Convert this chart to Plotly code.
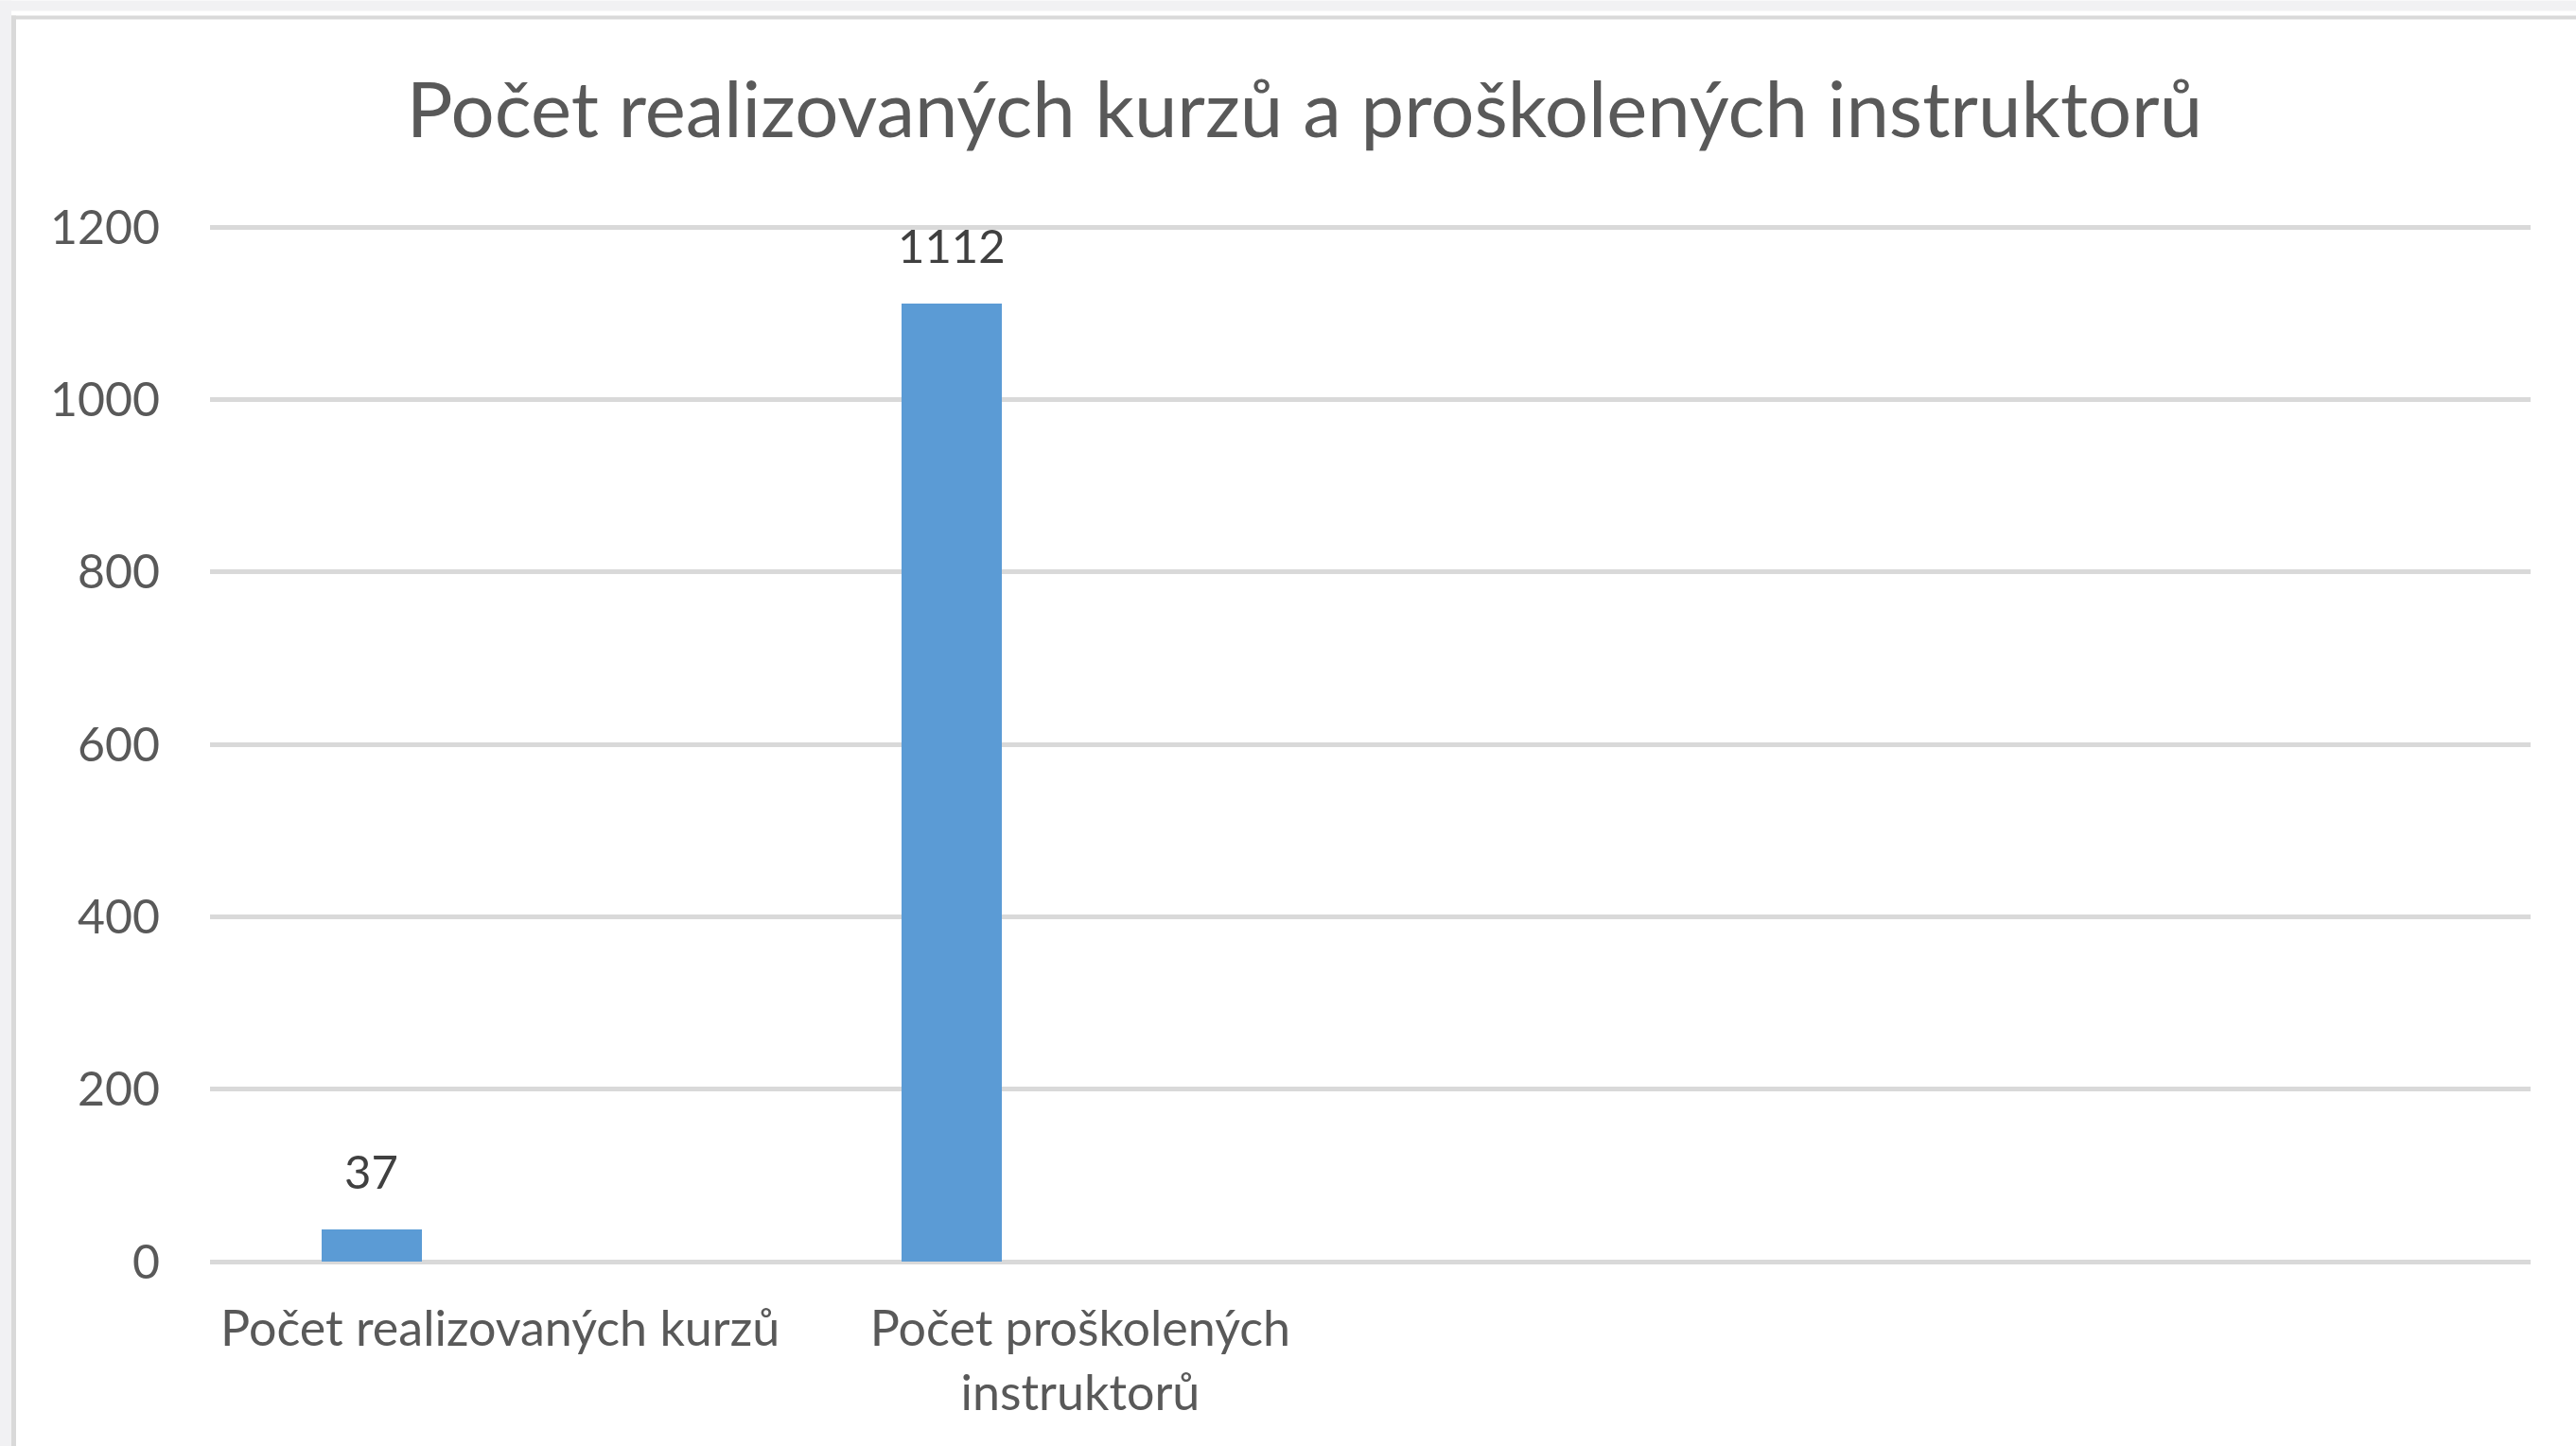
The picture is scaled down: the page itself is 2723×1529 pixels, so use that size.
import plotly.graph_objects as go

# ---- data ----
categories = ["Počet realizovaných kurzů", "Počet proškolených instruktorů"]
tick_labels = ["Počet realizovaných kurzů", "Počet proškolených<br>instruktorů"]
values = [37, 1112]
y_ticks = [0, 200, 400, 600, 800, 1000, 1200]
title_text = "Počet realizovaných kurzů a proškolených instruktorů"

# ---- layout constants (pixels) ----
W, H = 2723, 1529
L, R, B = 222, 2675, 1334
Y_TOP_PX = 240          # pixel row of the 1200 gridline
Y_MAX = 1200
Y_EXTRA = 6             # tiny headroom so the top gridline is drawn
T = B - (B - Y_TOP_PX) * (Y_MAX + Y_EXTRA) / Y_MAX
n_slots = 4
bar_w = 0.173
bar_off = -0.308

def px_x(px):
    return (px - L) / (R - L)

def px_y(py):
    return (B - py) / (B - T)

FONT = "Lato"
BAR_COLOR = "#5b9bd5"

x_pos = list(range(len(categories)))

fig = go.Figure()
fig.add_trace(go.Bar(
    x=x_pos, y=values,
    width=[bar_w] * len(values), offset=[bar_off] * len(values),
    marker=dict(color=BAR_COLOR, line=dict(width=0)),
    hoverinfo="skip", showlegend=False,
))

annotations = []
for i, v in enumerate(values):
    annotations.append(dict(
        x=i + bar_off + bar_w / 2, y=v, xref="x", yref="y",
        text=str(v), showarrow=False, yanchor="middle", yshift=62,
        font=dict(family=FONT, size=49, color="#404040"),
    ))

shapes = [
    # light gray outer strips
    dict(type="rect", xref="paper", yref="paper", layer="below",
         x0=px_x(0), x1=px_x(12), y0=px_y(H), y1=px_y(0),
         fillcolor="#f1f1f3", line=dict(width=0)),
    dict(type="rect", xref="paper", yref="paper", layer="below",
         x0=px_x(0), x1=px_x(W), y0=px_y(11), y1=px_y(0),
         fillcolor="#f1f1f3", line=dict(width=0)),
    # chart border (top and left)
    dict(type="rect", xref="paper", yref="paper", layer="below",
         x0=px_x(12), x1=px_x(W), y0=px_y(20), y1=px_y(16),
         fillcolor="#d9d9d9", line=dict(width=0)),
    dict(type="rect", xref="paper", yref="paper", layer="below",
         x0=px_x(12), x1=px_x(17), y0=px_y(H), y1=px_y(16),
         fillcolor="#d9d9d9", line=dict(width=0)),
]

fig.update_layout(
    width=W, height=H,
    margin=dict(l=L, r=W - R, t=T, b=H - B, pad=0),
    paper_bgcolor="white", plot_bgcolor="white",
    title=dict(text=title_text, x=1379 / W, xref="container", xanchor="center",
               y=1 - 116 / H, yref="container", yanchor="middle",
               font=dict(family=FONT, size=81.5, color="#595959")),
    bargap=0,
    annotations=annotations,
    shapes=shapes,
    xaxis=dict(
        range=[-0.5, n_slots - 0.5], tickvals=x_pos, ticktext=tick_labels,
        showgrid=False, zeroline=False, showline=False,
        ticks="outside", ticklen=26, tickcolor="rgba(0,0,0,0)",
        tickfont=dict(family=FONT, size=52, color="#595959"),
        fixedrange=True,
    ),
    yaxis=dict(
        range=[0, Y_MAX + Y_EXTRA], tickvals=y_ticks,
        showgrid=True, gridcolor="#d9d9d9", gridwidth=4.5,
        zeroline=True, zerolinecolor="#d9d9d9", zerolinewidth=5,
        showline=False,
        ticks="outside", ticklen=42, tickcolor="rgba(0,0,0,0)",
        tickfont=dict(family=FONT, size=50, color="#595959"),
        fixedrange=True,
    ),
    font=dict(family=FONT),
)

fig.write_html(
    "out.html",
    config={"displayModeBar": False},
    post_script="document.body.style.margin='0';document.body.style.overflow='hidden';",
)
